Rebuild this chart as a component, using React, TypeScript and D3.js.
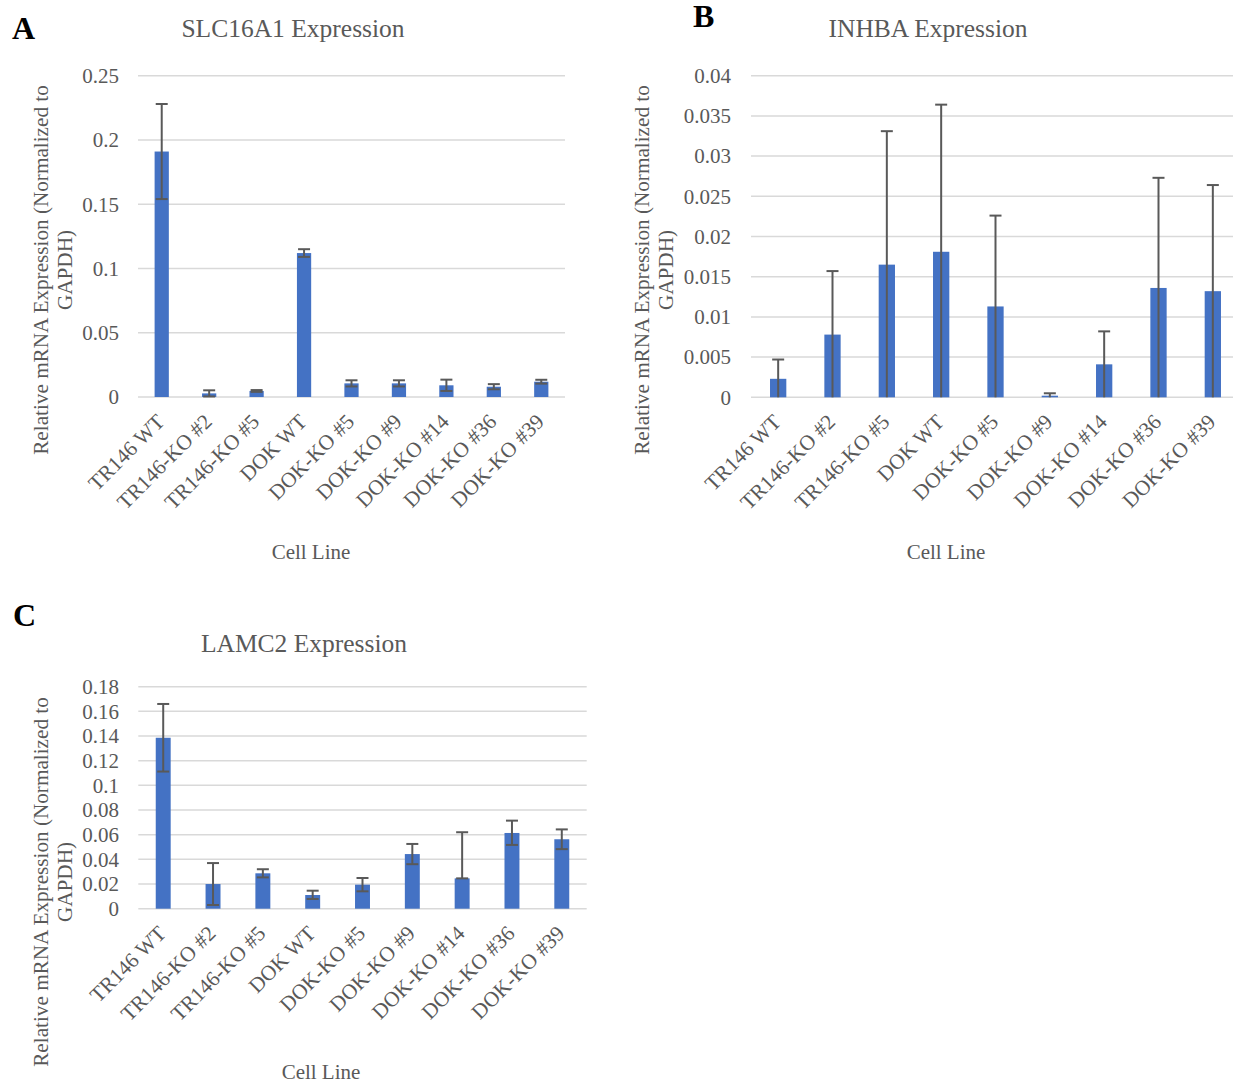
import * as d3 from "d3";

const categories = [
  "TR146 WT",
  "TR146-KO #2",
  "TR146-KO #5",
  "DOK WT",
  "DOK-KO #5",
  "DOK-KO #9",
  "DOK-KO #14",
  "DOK-KO #36",
  "DOK-KO #39",
];

// A - SLC16A1
const slcMeans = [0.191, 0.0028, 0.0047, 0.112, 0.0106, 0.0106, 0.0091, 0.008, 0.0119];
const slcErr = [0.037, 0.0024, 0.0007, 0.003, 0.0024, 0.0024, 0.0044, 0.002, 0.0015];
const slcTicks = [0, 0.05, 0.1, 0.15, 0.2, 0.25];

// B - INHBA
const inhbaMeans = [0.0023, 0.0078, 0.0165, 0.0181, 0.0113, 0.0002, 0.0041, 0.0136, 0.0132];
const inhbaErr = [0.0024, 0.0079, 0.0166, 0.0183, 0.0113, 0.0003, 0.0041, 0.0137, 0.0132];
const inhbaTicks = [0, 0.005, 0.01, 0.015, 0.02, 0.025, 0.03, 0.035, 0.04];

// C - LAMC2
const lamcMeans = [0.1386, 0.02, 0.0287, 0.0111, 0.0195, 0.0443, 0.0246, 0.0614, 0.0563];
const lamcErrUp = [0.0274, 0.017, 0.0033, 0.0035, 0.0054, 0.0082, 0.0374, 0.01, 0.008];
const lamcErrDown = [0.0274, 0.017, 0.0033, 0.0032, 0.0054, 0.0082, 0, 0.0097, 0.008];
const lamcTicks = [0, 0.02, 0.04, 0.06, 0.08, 0.1, 0.12, 0.14, 0.16, 0.18];

const FONT = "'Liberation Serif', 'Times New Roman', serif";
const TXT = "#595959";
const BAR = "#4472C4";
const GRID = "#D9D9D9";

type Layout = {
  x0: number; x1: number; y0: number; y1: number;
  tickX: number; titleX: number; titleY: number;
  letterX: number; letterY: number;
  yTitleX: number; yTitleY: number;
  xTitleX: number; xTitleY: number;
};

function Panel({ L, letter, title, means, errUp, errDown, ticks }: {
  L: Layout; letter: string; title: string; means: number[];
  errUp: number[]; errDown: number[]; ticks: number[];
}) {
  const x = d3.scaleBand<string>()
    .domain(categories)
    .range([L.x0, L.x1])
    .paddingInner(0.7)
    .paddingOuter(0.35);
  const y = d3.scaleLinear()
    .domain([0, ticks[ticks.length - 1]])
    .range([L.y1, L.y0]);
  const bw = x.bandwidth();
  const cap = 6;

  return (
    <g>
      <text x={L.letterX} y={L.letterY} fontFamily={FONT} fontWeight="bold" fontSize={32} fill="#000">{letter}</text>
      <text x={L.titleX} y={L.titleY} textAnchor="middle" fontFamily={FONT} fontSize={25.5} fill={TXT}>{title}</text>

      {ticks.map((t) => (
        <g key={t}>
          <line x1={L.x0} x2={L.x1} y1={y(t)} y2={y(t)} stroke={GRID} strokeWidth={1.5} />
          <text x={L.tickX} y={y(t)} dy="0.35em" textAnchor="end" fontFamily={FONT} fontSize={21} fill={TXT}>{String(t)}</text>
        </g>
      ))}

      {categories.map((c, i) => {
        const cx = x(c)! + bw / 2;
        const top = y(means[i] + errUp[i]);
        const lowV = means[i] - errDown[i];
        const low = y(Math.max(0, lowV));
        return (
          <g key={c}>
            <rect x={x(c)} y={y(means[i])} width={bw} height={y(0) - y(means[i])} fill={BAR} />
            <line x1={cx} x2={cx} y1={top} y2={low} stroke={TXT} strokeWidth={2} />
            <line x1={cx - cap} x2={cx + cap} y1={top} y2={top} stroke={TXT} strokeWidth={2} />
            {lowV > 0 && (
              <line x1={cx - cap} x2={cx + cap} y1={low} y2={low} stroke={TXT} strokeWidth={2} />
            )}
            <text
              transform={`translate(${cx + 4},${L.y1 + 26}) rotate(-45)`}
              textAnchor="end"
              fontFamily={FONT}
              fontSize={21.3}
              fill={TXT}
            >{c}</text>
          </g>
        );
      })}

      <text transform={`translate(${L.yTitleX},${L.yTitleY}) rotate(-90)`} textAnchor="middle" fontFamily={FONT} fontSize={21.2} fill={TXT}>
        <tspan x={0} dy={0}>Relative mRNA Expression (Normalized to</tspan>
        <tspan x={0} dy={23.5}>GAPDH)</tspan>
      </text>
      <text x={L.xTitleX} y={L.xTitleY} textAnchor="middle" fontFamily={FONT} fontSize={21} fill={TXT}>Cell Line</text>
    </g>
  );
}

const layoutA: Layout = {
  x0: 138, x1: 565, y0: 75.7, y1: 397,
  tickX: 119, titleX: 293, titleY: 37,
  letterX: 12, letterY: 39,
  yTitleX: 48, yTitleY: 270,
  xTitleX: 311, xTitleY: 559,
};
const layoutB: Layout = {
  x0: 751, x1: 1240, y0: 75.7, y1: 397.3,
  tickX: 731, titleX: 928, titleY: 37,
  letterX: 693, letterY: 27,
  yTitleX: 649, yTitleY: 270,
  xTitleX: 946, xTitleY: 559,
};
const layoutC: Layout = {
  x0: 138.3, x1: 586.7, y0: 686.7, y1: 908.7,
  tickX: 119, titleX: 304, titleY: 652,
  letterX: 13, letterY: 626,
  yTitleX: 48, yTitleY: 882,
  xTitleX: 321, xTitleY: 1079,
};

export default function App() {
  return (
    <svg
      width={1233}
      height={1082}
      style={{ position: "absolute", left: 0, top: 0, background: "#fff" }}
    >
      <rect width={1233} height={1082} fill="#fff" />
      <Panel L={layoutA} letter="A" title="SLC16A1 Expression" means={slcMeans} errUp={slcErr} errDown={slcErr} ticks={slcTicks} />
      <Panel L={layoutB} letter="B" title="INHBA Expression" means={inhbaMeans} errUp={inhbaErr} errDown={inhbaErr} ticks={inhbaTicks} />
      <Panel L={layoutC} letter="C" title="LAMC2 Expression" means={lamcMeans} errUp={lamcErrUp} errDown={lamcErrDown} ticks={lamcTicks} />
    </svg>
  );
}
